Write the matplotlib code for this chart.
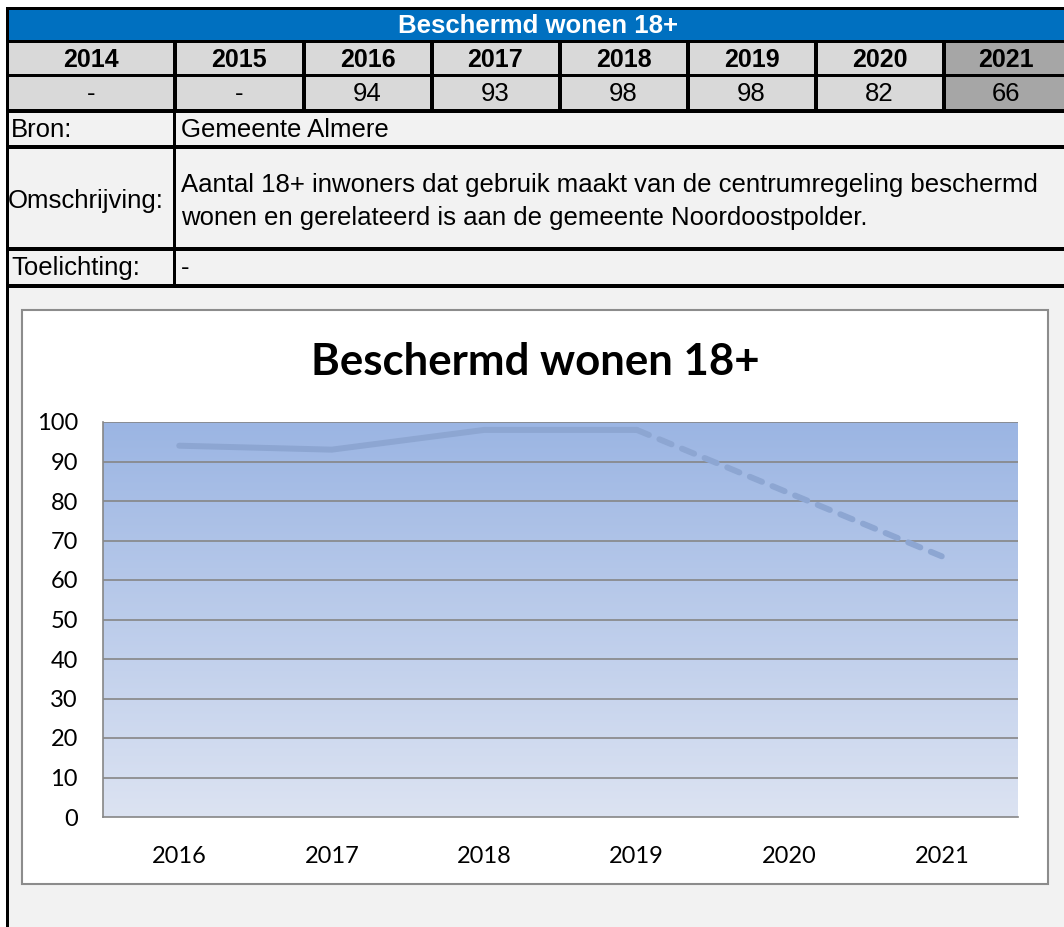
import numpy as np
import matplotlib.pyplot as plt
from matplotlib.patches import Rectangle

# data
years = ['2014', '2015', '2016', '2017', '2018', '2019', '2020', '2021']
table_vals = ['-', '-', '94', '93', '98', '98', '82', '66']
chart_years = ['2016', '2017', '2018', '2019', '2020', '2021']
chart_vals = [94, 93, 98, 98, 82, 66]
title = 'Beschermd wonen 18+'
bron = 'Gemeente Almere'
omschrijving = ['Aantal 18+ inwoners dat gebruik maakt van de centrumregeling beschermd',
                'wonen en gerelateerd is aan de gemeente Noordoostpolder.']
toelichting = '-'

W, H = 1064, 927
fig = plt.figure(figsize=(W / 100, H / 100), dpi=100)
fig.patch.set_facecolor('white')

# background axes in pixel coords
bg = fig.add_axes([0, 0, 1, 1])
bg.set_xlim(0, W)
bg.set_ylim(H, 0)
bg.axis('off')

def box(x0, y0, x1, y1, fc, ec='none', lw=0, z=1):
    bg.add_patch(Rectangle((x0, y0), x1 - x0, y1 - y0, facecolor=fc, edgecolor=ec, linewidth=lw, zorder=z))

tfont = 'Liberation Sans'
grey = '#D9D9D9'
light = '#F2F2F2'
fs_body = 18.5
fs_year = 18

# page + table frame
box(6, 7, W, H, light)
box(6, 7, W + 5, 288, 'black')
box(6, 288, 9, H, 'black')

# blue header
box(9, 10, W + 5, 40, '#0070C0', z=2)
bg.text(538, 26, title, color='white', fontsize=18.5, fontweight='bold', family=tfont,
        ha='center', va='center', zorder=3)

# year + value rows
bounds = [7.5, 174.5, 303.5, 431.5, 559.5, 687.5, 815.5, 943.5, 1072]
for i, (yr, v) in enumerate(zip(years, table_vals)):
    x0, x1 = bounds[i] + 2, bounds[i + 1] - 2
    if i == 0:
        x0 = 9
    fc = '#A6A6A6' if yr == '2021' else grey
    box(x0, 43, x1, 74, fc, z=2)
    box(x0, 77, x1, 109, fc, z=2)
    cx = (bounds[i] + bounds[i + 1]) / 2 if i < len(years) - 1 else 1006
    bg.text(cx, 60, yr, fontsize=fs_year, fontweight='bold', family=tfont, ha='center', va='center', zorder=3)
    bg.text(cx, 94, v, fontsize=fs_body, family=tfont, ha='center', va='center', zorder=3)

# text rows
rows = [(113, 145), (149, 247), (251, 284)]
for y0, y1 in rows:
    box(9, y0, 173, y1, light, z=2)
    box(176, y0, W + 5, y1, light, z=2)

bg.text(11, 130, 'Bron:', fontsize=fs_body, family=tfont, va='center', zorder=3)
bg.text(181, 130, bron, fontsize=fs_body, family=tfont, va='center', zorder=3)
bg.text(8, 201, 'Omschrijving:', fontsize=fs_body, family=tfont, va='center', zorder=3)
bg.text(181, 185, omschrijving[0], fontsize=fs_body, family=tfont, va='center', zorder=3)
bg.text(181, 218, omschrijving[1], fontsize=fs_body, family=tfont, va='center', zorder=3)
bg.text(11, 268, 'Toelichting:', fontsize=fs_body, family=tfont, va='center', zorder=3)
bg.text(181, 268, toelichting, fontsize=fs_body, family=tfont, va='center', zorder=3)

# chart box
box(22, 310, 1048, 884, 'white', ec='#8C8C8C', lw=1.5, z=2)
bg.text(535, 362, title, fontsize=31.5, fontweight='bold', family='Lato',
        ha='center', va='center', zorder=3)

# plot area
px0, py0, px1, py1 = 103, 422, 1018, 817
ax = fig.add_axes([px0 / W, 1 - py1 / H, (px1 - px0) / W, (py1 - py0) / H])
ax.set_zorder(5)
x = np.arange(len(chart_years))
ax.set_xlim(-0.5, len(chart_years) - 0.5)
ax.set_ylim(0, 100)

top = np.array([155, 181, 227]) / 255
bot = np.array([220, 227, 242]) / 255
t = np.linspace(0, 1, 256)[:, None]
grad = (top * (1 - t) + bot * t)[:, None, :]
ax.imshow(grad, extent=[-0.5, len(chart_years) - 0.5, 0, 100], aspect='auto', zorder=0)

for yv in range(10, 101, 10):
    ax.axhline(yv, color='#868686', lw=1.2, zorder=1)

line_col = '#8DA6D2'
ax.plot(x[:4], chart_vals[:4], color=line_col, lw=4.3, solid_capstyle='round',
        solid_joinstyle='round', zorder=3)
ax.plot(x[3:], chart_vals[3:], color=line_col, lw=4.3, dashes=(2.2, 1.9),
        dash_capstyle='round', zorder=3)

for s in ['top', 'right']:
    ax.spines[s].set_visible(False)
for s in ['left', 'bottom']:
    ax.spines[s].set_color('#868686')
    ax.spines[s].set_linewidth(1.2)

ax.set_yticks(range(0, 101, 10))
ax.set_xticks(x)
ax.set_xticklabels(chart_years)
ax.tick_params(axis='y', length=0, pad=18, labelsize=17)
ax.tick_params(axis='x', length=0, pad=21, labelsize=17)
for lab in ax.get_xticklabels() + ax.get_yticklabels():
    lab.set_family('Lato')

fig.savefig('out.png', dpi=100)
